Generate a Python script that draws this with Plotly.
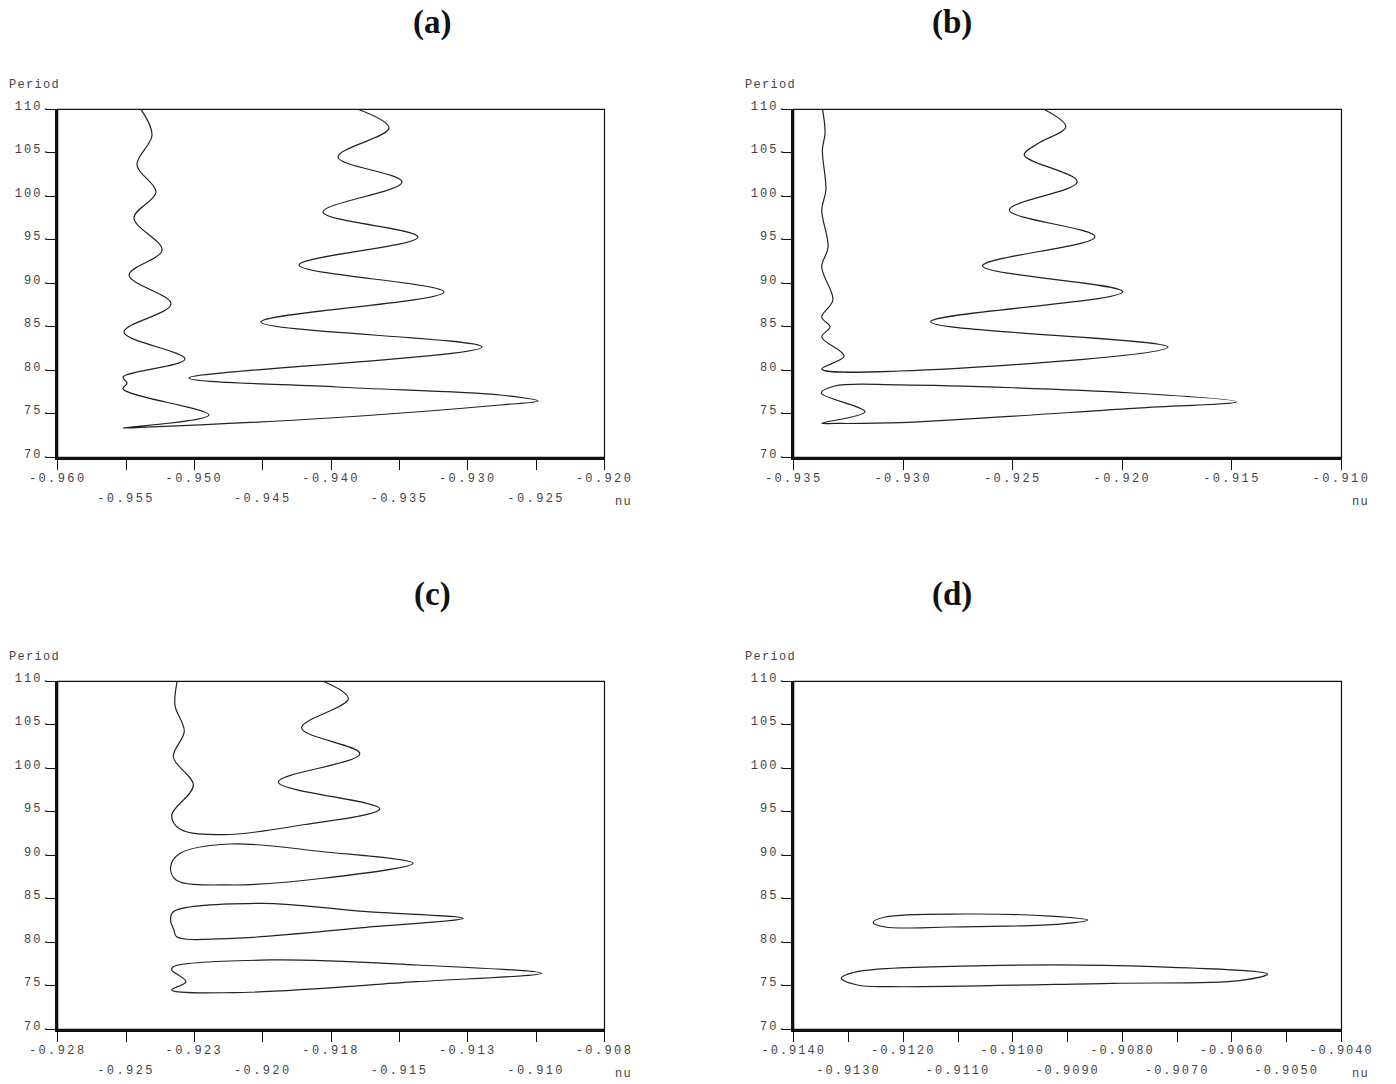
import plotly.graph_objects as go

# ---------------- data (nu, Period) ----------------
a_nu = [-0.95391, -0.95310, -0.95420, -0.95281, -0.95442, -0.95237, -0.95478, -0.95171,
        -0.95515, -0.95069, -0.95522, -0.95493, -0.95522, -0.94893, -0.95522, -0.95398,
        -0.94008, -0.92764, -0.92487, -0.92764, -0.93957, -0.95040, -0.92896, -0.94513,
        -0.93174, -0.94235, -0.93364, -0.94059, -0.93481, -0.93950, -0.93576, -0.93803]
a_period = [110.0, 107.05, 103.6, 100.5, 97.5, 93.83, 90.95, 87.62,
            84.40, 81.30, 79.23, 78.54, 77.85, 74.86, 73.37, 73.43,
            74.52, 76.01, 76.47, 77.16, 78.08, 79.11, 82.68, 85.55,
            89.0, 92.10, 95.32, 98.20, 101.64, 104.52, 107.85, 110.0]

b1_nu = [-0.93368, -0.93357, -0.93369, -0.93353, -0.93372, -0.93343, -0.93372, -0.93321,
         -0.93372, -0.93334, -0.93372, -0.93270, -0.93372, -0.93015, -0.91792, -0.92875,
         -0.91999, -0.92638, -0.92125, -0.92516, -0.92206, -0.92448, -0.92384, -0.92258,
         -0.92358]
b1_period = [110.0, 107.28, 105.32, 100.72, 98.43, 94.17, 91.87, 88.08,
             86.13, 84.98, 83.83, 81.64, 80.15, 79.92, 82.68, 85.59,
             89.03, 92.02, 95.36, 98.43, 101.68, 104.75, 106.09, 108.0,
             110.0]
b2_nu = [-0.91479, -0.91952, -0.93015, -0.93312, -0.93374, -0.93175, -0.93372, -0.93312,
         -0.93015, -0.91952, -0.91479]
b2_period = [76.39, 77.39, 78.32, 78.2, 77.39, 75.24, 73.91, 73.89,
             73.98, 75.63, 76.39]

c1_nu = [-0.92363, -0.92371, -0.92337, -0.92377, -0.92304, -0.92383, -0.92353, -0.92195,
         -0.91914, -0.91622, -0.91993, -0.91695, -0.91908, -0.91737, -0.91829]
c1_period = [110.0, 107.24, 104.25, 101.30, 98.05, 94.60, 93.02, 92.37,
             93.45, 95.36, 98.43, 101.68, 104.63, 108.0, 110.0]
c2_nu = [-0.91500, -0.91829, -0.92170, -0.92353, -0.92387, -0.92367, -0.92170, -0.91829, -0.91500]
c2_period = [89.08, 90.41, 91.30, 90.21, 88.69, 87.16, 86.59, 87.36, 89.08]
c3_nu = [-0.91317, -0.91670, -0.92060, -0.92377, -0.92387, -0.92375, -0.92365, -0.92158,
         -0.91670, -0.91317]
c3_period = [82.76, 83.52, 84.48, 83.52, 82.56, 81.41, 80.64, 80.46, 81.72, 82.76]
c4_nu = [-0.91030, -0.91487, -0.92024, -0.92377, -0.92383, -0.92331, -0.92383, -0.92158,
         -0.91487, -0.91030]
c4_period = [76.44, 77.39, 77.97, 77.20, 76.82, 75.47, 74.52, 74.21, 75.47, 76.44]

d1_nu = [-0.90863, -0.90932, -0.91087, -0.91233, -0.91255, -0.91233, -0.91115, -0.90914, -0.90863]
d1_period = [82.56, 83.02, 83.25, 82.91, 82.28, 81.76, 81.76, 82.10, 82.56]
d2_nu = [-0.90535, -0.90741, -0.91051, -0.91284, -0.91313, -0.91284, -0.91222, -0.90819,
         -0.90586, -0.90535]
d2_period = [76.36, 77.20, 77.31, 76.62, 75.86, 75.09, 74.90, 75.29, 75.59, 76.36]

# ---------------- ticks ----------------
y_tick_vals = [70, 75, 80, 85, 90, 95, 100, 105, 110]
y_tick_text = ["70.", "75.", "80.", "85.", "90.", "95.", "100.", "105.", "110."]

a_tick_vals = [-0.960, -0.955, -0.950, -0.945, -0.940, -0.935, -0.930, -0.925, -0.920]
a_tick_text = ["-0.960", "-0.955", "-0.950", "-0.945", "-0.940", "-0.935", "-0.930", "-0.925", "-0.920"]
b_tick_vals = [-0.935, -0.930, -0.925, -0.920, -0.915, -0.910]
b_tick_text = ["-0.935", "-0.930", "-0.925", "-0.920", "-0.915", "-0.910"]
c_tick_vals = [-0.928, -0.9255, -0.923, -0.9205, -0.918, -0.9155, -0.913, -0.9105, -0.908]
c_tick_text = ["-0.928", "-0.925", "-0.923", "-0.920", "-0.918", "-0.915", "-0.913", "-0.910", "-0.908"]
d_tick_vals = [-0.9140, -0.9130, -0.9120, -0.9110, -0.9100, -0.9090, -0.9080, -0.9070, -0.9060, -0.9050, -0.9040]
d_tick_text = ["-0.9140", "-0.9130", "-0.9120", "-0.9110", "-0.9100", "-0.9090", "-0.9080",
               "-0.9070", "-0.9060", "-0.9050", "-0.9040"]

panel_titles = ["(a)", "(b)", "(c)", "(d)"]

# ---------------- styling ----------------
W, H = 1396, 1084
LINE_COL = "#222222"
TXT_COL = "#444444"
MONO = "Liberation Mono"


def sp(t, ls=2.4):
    return f'<span style="letter-spacing:{ls}px">{t}</span>'


def px_x(p):
    return p / W


def px_y(p):
    return 1 - p / H


dom_x = [[px_x(57.7), px_x(604.5)], [px_x(793.7), px_x(1341.5)]]
dom_y = [[px_y(457.3), px_y(109.3)], [px_y(1029.3), px_y(681.3)]]

panels = [
    dict(r=0, c=0, rng=[-0.960, -0.920], tv=a_tick_vals, tt=a_tick_text, two=True,
         curves=[(a_nu, a_period)]),
    dict(r=0, c=1, rng=[-0.935, -0.910], tv=b_tick_vals, tt=b_tick_text, two=False,
         curves=[(b1_nu, b1_period), (b2_nu, b2_period)]),
    dict(r=1, c=0, rng=[-0.928, -0.908], tv=c_tick_vals, tt=c_tick_text, two=True,
         curves=[(c1_nu, c1_period), (c2_nu, c2_period), (c3_nu, c3_period), (c4_nu, c4_period)]),
    dict(r=1, c=1, rng=[-0.9140, -0.9040], tv=d_tick_vals, tt=d_tick_text, two=True,
         curves=[(d1_nu, d1_period), (d2_nu, d2_period)]),
]

fig = go.Figure()
layout = dict(width=W, height=H, margin=dict(l=0, r=0, t=0, b=0),
              paper_bgcolor="white", plot_bgcolor="white", showlegend=False,
              annotations=[], shapes=[])

tickfont = dict(family=MONO, size=12, color=TXT_COL)

for i, p in enumerate(panels):
    k = i + 1
    xn = "x" if k == 1 else f"x{k}"
    yn = "y" if k == 1 else f"y{k}"
    xa = "xaxis" if k == 1 else f"xaxis{k}"
    ya = "yaxis" if k == 1 else f"yaxis{k}"
    ls = 2.4 if k != 4 else 2.0
    for (xs, ys) in p["curves"]:
        fig.add_trace(go.Scatter(x=xs, y=ys, mode="lines", xaxis=xn, yaxis=yn,
                                 line=dict(color=LINE_COL, width=1.2, shape="spline", smoothing=1.0),
                                 hoverinfo="skip"))
    if p["two"]:
        row1 = [sp(t, ls) if j % 2 == 0 else "" for j, t in enumerate(p["tt"])]
    else:
        row1 = [sp(t, ls) for t in p["tt"]]
    layout[xa] = dict(domain=dom_x[p["c"]], anchor=yn, range=p["rng"], tickvals=p["tv"], ticktext=row1,
                      ticks="outside", ticklen=10, tickwidth=1.2, tickcolor="#111",
                      showline=True, linewidth=2.5, linecolor="#111", showgrid=False, zeroline=False,
                      tickfont=tickfont, automargin=False, ticklabelstandoff=-2, fixedrange=True)
    layout[ya] = dict(domain=dom_y[p["r"]], anchor=xn, range=[70, 110], tickvals=y_tick_vals,
                      ticktext=[sp(t, 2.0) for t in y_tick_text],
                      ticks="outside", ticklen=9, tickwidth=1.2, tickcolor="#111",
                      showline=True, linewidth=2.5, linecolor="#111", showgrid=False, zeroline=False,
                      tickfont=tickfont, automargin=False, ticklabelshift=-4, ticklabelstandoff=-8,
                      fixedrange=True)
    if p["two"]:
        k2 = k + 4
        xa2 = f"xaxis{k2}"
        layout[xa2] = dict(overlaying=xn, anchor=yn, side="bottom", range=p["rng"],
                           tickvals=[v for j, v in enumerate(p["tv"]) if j % 2 == 1],
                           ticktext=[sp(t, ls) for j, t in enumerate(p["tt"]) if j % 2 == 1],
                           ticks="", showline=False, showgrid=False, zeroline=False,
                           tickfont=tickfont, automargin=False, ticklabelstandoff=32,
                           fixedrange=True)
        fig.add_trace(go.Scatter(x=[None], y=[None], mode="lines", xaxis=f"x{k2}", yaxis=yn,
                                 hoverinfo="skip", showlegend=False))
    # thin frame
    layout["shapes"].append(dict(type="rect", xref=f"{xn} domain", yref=f"{yn} domain",
                                 x0=0, x1=1, y0=0, y1=1, line=dict(color="#111", width=1.2)))
    # panel title
    tx = [432, 952][p["c"]]
    ty = [23, 594][p["r"]]
    layout["annotations"].append(dict(text=f"<b>{panel_titles[i]}</b>", xref="paper", yref="paper",
                                      x=px_x(tx), y=px_y(ty), showarrow=False, xanchor="center",
                                      yanchor="middle",
                                      font=dict(family="Liberation Serif", size=33, color="#111")))
    # Period label
    lx = [7, 743][p["c"]]
    ly = [85, 657][p["r"]]
    layout["annotations"].append(dict(text=sp("Period", 1.3), xref="paper", yref="paper",
                                      x=px_x(lx), y=px_y(ly), showarrow=False, xanchor="left",
                                      yanchor="middle", font=dict(family=MONO, size=12, color=TXT_COL)))
    # nu label
    nx = [623, 1360][p["c"]]
    ny = [502, 1074][p["r"]]
    layout["annotations"].append(dict(text=sp("nu", 1.3), xref="paper", yref="paper",
                                      x=px_x(nx), y=px_y(ny), showarrow=False, xanchor="center",
                                      yanchor="middle", font=dict(family=MONO, size=12, color=TXT_COL)))

fig.update_layout(**layout)
fig.write_html("out.html", config={"displayModeBar": False},
               post_script="document.body.style.margin='0';document.body.style.padding='0';")
